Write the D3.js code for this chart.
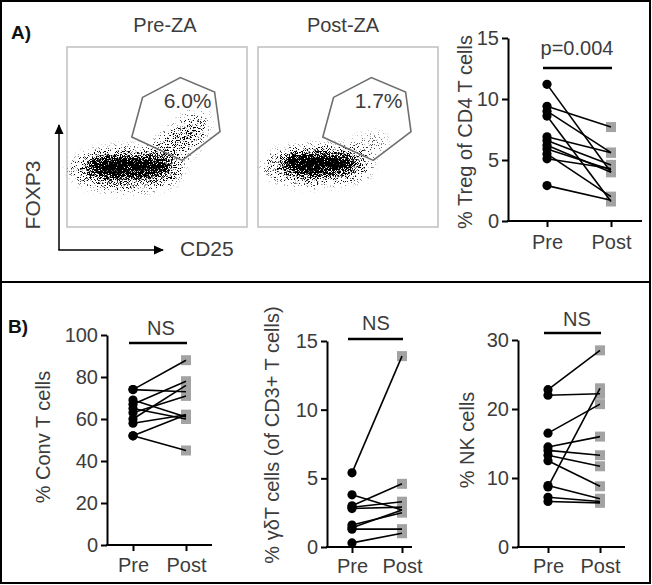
<!DOCTYPE html>
<html><head><meta charset="utf-8">
<script src="https://cdn.jsdelivr.net/npm/d3@7"></script>
<style>body{margin:0;background:#fff}svg{display:block}</style>
</head><body><svg id="fig" width="652" height="585"></svg>
<script>
// ---------- data ----------
const categories = ["Pre", "Post"];
const tregPre  = [11.2, 9.4, 9.0, 8.6, 6.9, 6.6, 6.2, 5.9, 5.5, 5.1, 2.9];
const tregPost = [4.0, 7.7, 5.6, 1.6, 5.6, 4.6, 4.0, 4.2, 2.0, 4.3, 1.7];
const convPre  = [74, 74, 69, 67, 65, 63, 60, 58, 52, 52];
const convPost = [88, 73, 61, 78, 60, 71, 76, 62, 62, 45];
const gdPre    = [5.4, 3.8, 3.0, 2.9, 2.8, 1.6, 1.4, 1.3, 0.3];
const gdPost   = [13.9, 2.7, 4.6, 3.3, 2.9, 2.5, 2.7, 1.3, 1.0];
const nkPre    = [22.8, 22.0, 16.5, 14.5, 14.0, 13.3, 12.5, 8.7, 8.9, 7.2, 6.6];
const nkPost   = [28.5, 22.2, 20.7, 16.0, 13.3, 11.7, 8.8, 23.0, 7.0, 6.6, 6.4];
const tregTicks = [0, 5, 10, 15];
const convTicks = [0, 20, 40, 60, 80, 100];
const gdTicks   = [0, 5, 10, 15];
const nkTicks   = [0, 10, 20, 30];
const flowTitles = ["Pre-ZA", "Post-ZA"];
const gatePercents = ["6.0%", "1.7%"];
// gate polygon in normalized CD25 (u) / FOXP3 (v) units
const gateU = [0.42, 0.63, 0.82, 0.85, 0.64, 0.36];
const gateV = [0.72, 0.83, 0.75, 0.53, 0.37, 0.50];
// cell-density components: u, v, radius u, radius v, tilt, density
const preCloudU  = [0.34, 0.33, 0.60, 0.70];
const preCloudV  = [0.33, 0.32, 0.45, 0.56];
const preCloudRU = [0.23, 0.31, 0.17, 0.10];
const preCloudRV = [0.06, 0.12, 0.09, 0.08];
const preCloudA  = [0, 0, -35, -40];
const preCloudD  = [1.0, 0.35, 0.3, 0.18];
const postCloudU  = [0.34, 0.33, 0.58];
const postCloudV  = [0.35, 0.34, 0.43];
const postCloudRU = [0.21, 0.30, 0.15];
const postCloudRV = [0.06, 0.11, 0.07];
const postCloudA  = [0, 0, -25];
const postCloudD  = [1.0, 0.32, 0.15];

// ---------- drawing ----------
const FONT = "'Liberation Sans', Arial, sans-serif";
const TXT = "#3c3c3c";
const svg = d3.select("#fig");

// stipple filter (texture for flow plots)
const defs = svg.append("defs");
const f = defs.append("filter").attr("id", "stipple")
  .attr("filterUnits", "userSpaceOnUse").attr("x", 0).attr("y", 0).attr("width", 652).attr("height", 300);
f.append("feGaussianBlur").attr("in", "SourceAlpha").attr("stdDeviation", 5).attr("result", "b");
f.append("feTurbulence").attr("type", "fractalNoise").attr("baseFrequency", 1.3)
  .attr("numOctaves", 2).attr("seed", 7).attr("result", "n");
f.append("feColorMatrix").attr("in", "n").attr("type", "matrix")
  .attr("values", "0 0 0 0 0  0 0 0 0 0  0 0 0 0 0  2.4 0 0 0 -0.75").attr("result", "na");
f.append("feComposite").attr("in", "b").attr("in2", "na").attr("operator", "arithmetic")
  .attr("k1", 0).attr("k2", 5).attr("k3", -5).attr("k4", 0);

// frame
svg.append("rect").attr("x", 1).attr("y", 1).attr("width", 649).attr("height", 582)
  .attr("fill", "none").attr("stroke", "#000").attr("stroke-width", 2);
svg.append("line").attr("x1", 0).attr("x2", 651).attr("y1", 282).attr("y2", 282)
  .attr("stroke", "#000").attr("stroke-width", 2);

svg.append("text").attr("x", 11).attr("y", 39).text("A)")
  .attr("font-family", FONT).attr("font-weight", "bold").attr("font-size", 19).attr("fill", "#111");
svg.append("text").attr("x", 8).attr("y", 333).text("B)")
  .attr("font-family", FONT).attr("font-weight", "bold").attr("font-size", 19).attr("fill", "#111");

// flow plots
const flowBoxX = [67, 258], flowBoxY = 47, flowSize = 180;
const titleX = [165, 343];
const clouds = [
  {u: preCloudU, v: preCloudV, ru: preCloudRU, rv: preCloudRV, a: preCloudA, d: preCloudD},
  {u: postCloudU, v: postCloudV, ru: postCloudRU, rv: postCloudRV, a: postCloudA, d: postCloudD}
];
flowTitles.forEach((t, k) => {
  const bx = flowBoxX[k];
  const sx = d3.scaleLinear().domain([0, 1]).range([bx, bx + flowSize]);
  const sy = d3.scaleLinear().domain([0, 1]).range([flowBoxY + flowSize, flowBoxY]);
  const g = svg.append("g");
  g.append("text").attr("x", titleX[k]).attr("y", 32).attr("text-anchor", "middle")
    .attr("font-family", FONT).attr("font-size", 20).attr("fill", TXT).text(t);
  g.append("rect").attr("x", bx).attr("y", flowBoxY).attr("width", flowSize).attr("height", flowSize)
    .attr("fill", "none").attr("stroke", "#c4c4c4").attr("stroke-width", 1.6);
  const c = clouds[k];
  const comps = c.u.map((u, i) => ({u, v: c.v[i], ru: c.ru[i], rv: c.rv[i], a: c.a[i], d: c.d[i]}));
  g.append("g").attr("filter", "url(#stipple)")
    .selectAll("ellipse").data(comps).join("ellipse")
    .attr("cx", 0).attr("cy", 0)
    .attr("rx", d => sx(d.ru) - sx(0)).attr("ry", d => sy(0) - sy(d.rv))
    .attr("transform", d => `translate(${sx(d.u)},${sy(d.v)}) rotate(${d.a})`)
    .attr("fill", "#000").attr("fill-opacity", d => d.d);
  const pts = gateU.map((u, i) => [sx(u), sy(gateV[i])]);
  g.append("path").attr("d", d3.line()(pts) + "Z")
    .attr("fill", "none").attr("stroke", "#6e6e6e").attr("stroke-width", 1.6);
  g.append("text").attr("x", sx(0.67)).attr("y", 108).attr("text-anchor", "middle")
    .attr("font-family", FONT).attr("font-size", 21).attr("fill", TXT).text(gatePercents[k]);
});

// FOXP3 / CD25 arrows
defs.append("marker").attr("id", "arr").attr("viewBox", "0 0 10 10").attr("refX", 9).attr("refY", 5)
  .attr("markerWidth", 10).attr("markerHeight", 10).attr("markerUnits", "userSpaceOnUse").attr("orient", "auto")
  .append("path").attr("d", "M0,0.5L10,5L0,9.5Z").attr("fill", "#000");
svg.append("path").attr("d", "M59,250V125").attr("stroke", "#000").attr("stroke-width", 1.5).attr("marker-end", "url(#arr)");
svg.append("path").attr("d", "M58.25,250H163").attr("stroke", "#000").attr("stroke-width", 1.5).attr("marker-end", "url(#arr)");
svg.append("text").attr("transform", "translate(32,195) rotate(-90)").attr("text-anchor", "middle")
  .attr("dominant-baseline", "central").attr("font-family", FONT).attr("font-size", 21).attr("fill", TXT).text("FOXP3");
svg.append("text").attr("x", 180).attr("y", 256).attr("font-family", FONT).attr("font-size", 21)
  .attr("fill", TXT).text("CD25");

// paired before/after charts
function pairedChart(cfg) {
  const g = svg.append("g");
  const y = d3.scaleLinear().domain([0, cfg.max]).range([cfg.y0, cfg.yTop]);
  const x = d3.scalePoint().domain(categories).range([cfg.preX, cfg.postX]);

  const ya = g.append("g").attr("transform", `translate(${cfg.ax},0)`)
    .call(d3.axisLeft(y).tickValues(cfg.ticks).tickSize(6).tickSizeOuter(0).tickPadding(3));
  ya.attr("font-family", FONT).attr("font-size", 20);
  ya.select(".domain").attr("stroke", "#000").attr("stroke-width", 2);
  ya.selectAll(".tick line").attr("stroke", "#000").attr("stroke-width", 2);
  ya.selectAll(".tick text").attr("fill", TXT);

  const xa = g.append("g").attr("transform", `translate(0,${cfg.y0})`)
    .call(d3.axisBottom(x).tickSize(6).tickSizeOuter(0).tickPadding(cfg.xPad));
  xa.attr("font-family", FONT).attr("font-size", 20);
  xa.select(".domain").remove();
  xa.selectAll(".tick line").attr("stroke", "#000").attr("stroke-width", 2);
  xa.selectAll(".tick text").attr("fill", TXT);
  g.append("line").attr("x1", cfg.ax - 1).attr("x2", cfg.axEnd).attr("y1", cfg.y0).attr("y2", cfg.y0)
    .attr("stroke", "#000").attr("stroke-width", 2);

  g.append("text").attr("transform", `translate(${cfg.lx},${cfg.ly}) rotate(-90)`)
    .attr("text-anchor", "middle").attr("dominant-baseline", "central")
    .attr("font-family", FONT).attr("font-size", 20).attr("fill", TXT).text(cfg.label);

  g.append("text").attr("x", cfg.sx).attr("y", cfg.sy).attr("text-anchor", "middle")
    .attr("font-family", FONT).attr("font-size", 20).attr("fill", TXT).text(cfg.stat);
  g.append("line").attr("x1", x("Pre") - 4).attr("x2", x("Post") + 1).attr("y1", cfg.by).attr("y2", cfg.by)
    .attr("stroke", "#000").attr("stroke-width", 2.5);

  const pairs = cfg.pre.map((p, i) => ({pre: p, post: cfg.post[i]}));
  g.append("g").selectAll("rect").data(pairs).join("rect")
    .attr("x", x("Post") - 5).attr("y", d => y(d.post) - 5).attr("width", 10).attr("height", 10)
    .attr("fill", "#a3a3a3");
  g.append("g").selectAll("line").data(pairs).join("line")
    .attr("x1", x("Pre")).attr("x2", x("Post")).attr("y1", d => y(d.pre)).attr("y2", d => y(d.post))
    .attr("stroke", "#000").attr("stroke-width", 1.6);
  g.append("g").selectAll("circle").data(pairs).join("circle")
    .attr("cx", x("Pre")).attr("cy", d => y(d.pre)).attr("r", 4.6).attr("fill", "#000");
}

pairedChart({pre: tregPre, post: tregPost, ticks: tregTicks, max: 15, ax: 508, y0: 221, yTop: 38,
  preX: 547, postX: 611, axEnd: 642, xPad: 8, label: "% Treg of CD4 T cells", lx: 465, ly: 132,
  stat: "p=0.004", sx: 577, sy: 55, by: 68});
pairedChart({pre: convPre, post: convPost, ticks: convTicks, max: 100, ax: 107, y0: 545, yTop: 335,
  preX: 133, postX: 186, axEnd: 212, xPad: 7, label: "% Conv T cells", lx: 43, ly: 437,
  stat: "NS", sx: 161, sy: 335, by: 343});
pairedChart({pre: gdPre, post: gdPost, ticks: gdTicks, max: 15, ax: 327, y0: 547, yTop: 341,
  preX: 352, postX: 402, axEnd: 412, xPad: 6, label: "% \u03b3\u03b4T cells (of CD3+ T cells)", lx: 272, ly: 435,
  stat: "NS", sx: 376, sy: 330, by: 339});
pairedChart({pre: nkPre, post: nkPost, ticks: nkTicks, max: 30, ax: 518, y0: 547, yTop: 340,
  preX: 548, postX: 600, axEnd: 625, xPad: 6, label: "% NK cells", lx: 467, ly: 440,
  stat: "NS", sx: 577, sy: 326, by: 333});
</script></body></html>
